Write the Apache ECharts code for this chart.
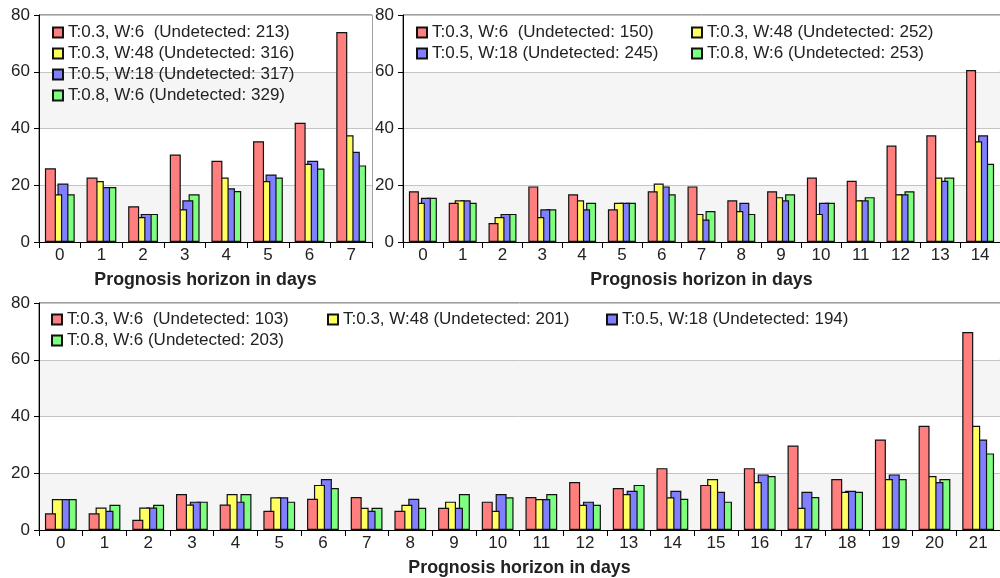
<!DOCTYPE html>
<html>
<head>
<meta charset="utf-8">
<script src="https://cdn.jsdelivr.net/npm/echarts@6/dist/echarts.min.js"></script>
<style>
html,body{margin:0;padding:0;background:#fff;}
#c{width:1000px;height:578px;}
</style>
</head>
<body>
<div id="c"></div>
<script>
// ---- tick labels / categories ----
const days7 = ['0','1','2','3','4','5','6','7'];
const days14 = ['0','1','2','3','4','5','6','7','8','9','10','11','12','13','14'];
const days21 = ['0','1','2','3','4','5','6','7','8','9','10','11','12','13','14','15','16','17','18','19','20','21'];
const yTicks = [0, 20, 40, 60, 80];
const xTitle = 'Prognosis horizon in days';

// ---- series names ----
const names7 = ['T:0.3, W:6  (Undetected: 213)', 'T:0.3, W:48 (Undetected: 316)', 'T:0.5, W:18 (Undetected: 317)', 'T:0.8, W:6 (Undetected: 329)'];
const names14 = ['T:0.3, W:6  (Undetected: 150)', 'T:0.3, W:48 (Undetected: 252)', 'T:0.5, W:18 (Undetected: 245)', 'T:0.8, W:6 (Undetected: 253)'];
const names21 = ['T:0.3, W:6  (Undetected: 103)', 'T:0.3, W:48 (Undetected: 201)', 'T:0.5, W:18 (Undetected: 194)', 'T:0.8, W:6 (Undetected: 203)'];

// ---- values: 7-day horizon ----
const h7_red    = [26, 22.7, 12.6, 30.8, 28.6, 35.5, 42, 74];
const h7_yellow = [16.8, 21.5, 8.8, 11.5, 22.7, 21.5, 27.6, 37.6];
const h7_blue   = [20.6, 19.4, 9.9, 14.7, 18.9, 23.8, 28.6, 31.8];
const h7_green  = [16.8, 19.4, 9.9, 16.8, 18, 22.7, 25.9, 27];

// ---- values: 14-day horizon ----
const h14_red    = [17.9, 13.8, 6.7, 19.6, 16.8, 11.5, 17.9, 19.6, 14.7, 17.9, 22.7, 21.6, 34, 37.6, 60.6];
const h14_yellow = [13.8, 14.7, 8.8, 8.8, 14.7, 13.8, 20.6, 9.9, 10.9, 15.8, 9.9, 14.7, 16.8, 22.7, 35.5];
const h14_blue   = [15.6, 14.7, 9.9, 11.5, 11.5, 13.8, 19.6, 7.9, 13.8, 14.7, 13.8, 14.7, 16.8, 21.6, 37.6];
const h14_green  = [15.6, 13.8, 9.9, 11.5, 13.8, 13.8, 16.8, 10.9, 9.9, 16.8, 13.8, 15.8, 17.9, 22.7, 27.6];

// ---- values: 21-day horizon ----
const h21_red    = [5.9, 5.9, 3.6, 12.7, 9, 6.8, 11, 11.6, 6.8, 7.8, 10, 11.6, 16.9, 14.8, 21.8, 15.9, 21.8, 29.8, 18, 31.9, 36.7, 69.8];
const h21_yellow = [10.9, 7.9, 7.9, 9, 12.7, 11.5, 15.9, 7.8, 8.9, 10, 6.8, 10.9, 8.9, 12.7, 11.5, 18, 16.9, 7.8, 13.5, 18, 19, 36.7];
const h21_blue   = [10.9, 6.8, 7.9, 10, 10, 11.5, 18, 6.8, 11, 7.8, 12.7, 10.9, 10, 13.8, 13.8, 13.5, 19.6, 13.5, 13.8, 19.6, 16.9, 31.9];
const h21_green  = [10.9, 8.9, 8.9, 10, 12.7, 10, 14.8, 7.8, 7.8, 12.7, 11.5, 12.7, 8.9, 15.9, 11, 10, 19, 11.6, 13.5, 18, 18, 27];

const colors = ['#ff7f7f', '#ffff5f', '#7f7fff', '#7fff7f'];
const FONT = '"Liberation Sans", Arial, sans-serif';
const TXT = '#222';

const grids = [
  {left: 39, top: 15, width: 333, height: 227},
  {left: 403, top: 15, width: 597, height: 227},
  {left: 39, top: 303, width: 961, height: 227}
];

function xAxisFor(idx, cats) {
  return {
    type: 'category', gridIndex: idx, data: cats,
    axisLine: {lineStyle: {color: '#000', width: 1}},
    axisTick: {show: true, length: 6, lineStyle: {color: '#000'}},
    axisLabel: {color: TXT, fontSize: 17, fontFamily: FONT, margin: 5},
    name: xTitle, nameLocation: 'middle', nameGap: 29,
    nameTextStyle: {color: TXT, fontSize: 17.8, fontWeight: 'bold', fontFamily: FONT}
  };
}
function yAxisFor(idx) {
  return {
    type: 'value', gridIndex: idx, min: yTicks[0], max: yTicks[yTicks.length - 1], interval: yTicks[1] - yTicks[0],
    axisLine: {show: true, lineStyle: {color: '#000', width: 1}},
    axisTick: {show: true, length: 5, lineStyle: {color: '#000'}},
    axisLabel: {color: TXT, fontSize: 17, fontFamily: FONT, margin: 9},
    splitLine: {show: true, lineStyle: {color: '#c4c4c4', width: 1}},
    splitArea: {show: true, areaStyle: {color: ['#f5f5f5', '#ffffff']}}
  };
}

function seriesFor(idx, names, datas, barWidth, barGap) {
  return datas.map((d, i) => ({
    type: 'bar', name: names[i], xAxisIndex: idx, yAxisIndex: idx,
    data: d, barWidth: barWidth, barGap: barGap, z: 6 - i,
    itemStyle: {color: colors[i], borderColor: '#111', borderWidth: 1.2},
    emphasis: {disabled: true}
  }));
}

function legendItem(name, x, y) {
  return {
    data: [name], left: x, top: y - 8, padding: 0, z: 20,
    icon: 'rect', itemWidth: 10, itemHeight: 10,
    textStyle: {color: TXT, fontSize: 17, fontFamily: FONT, lineHeight: 16},
    selectedMode: false
  };
}

const legends = [
  legendItem(names7[0], 52, 32),
  legendItem(names7[1], 52, 53),
  legendItem(names7[2], 52, 74),
  legendItem(names7[3], 52, 95),
  legendItem(names14[0], 416, 32),
  legendItem(names14[1], 691, 32),
  legendItem(names14[2], 416, 53),
  legendItem(names14[3], 691, 53),
  legendItem(names21[0], 51, 319),
  legendItem(names21[1], 327, 319),
  legendItem(names21[2], 606, 319),
  legendItem(names21[3], 51, 340)
];

const option = {
  animation: false,
  backgroundColor: '#fff',
  textStyle: {fontFamily: FONT},
  grid: grids.map(g => Object.assign({show: true, borderColor: '#444', borderWidth: 1, backgroundColor: 'transparent'}, g)),
  xAxis: [xAxisFor(0, days7), xAxisFor(1, days14), xAxisFor(2, days21)],
  yAxis: [yAxisFor(0), yAxisFor(1), yAxisFor(2)],
  legend: legends,
  series: [].concat(
    seriesFor(0, names7, [h7_red, h7_yellow, h7_blue, h7_green], 11, '-43%'),
    seriesFor(1, names14, [h14_red, h14_yellow, h14_blue, h14_green], 10, '-40%'),
    seriesFor(2, names21, [h21_red, h21_yellow, h21_blue, h21_green], 11, '-37%')
  )
};

const chart = echarts.init(document.getElementById('c'), null, {renderer: 'canvas'});
chart.setOption(option);
</script>
</body>
</html>
